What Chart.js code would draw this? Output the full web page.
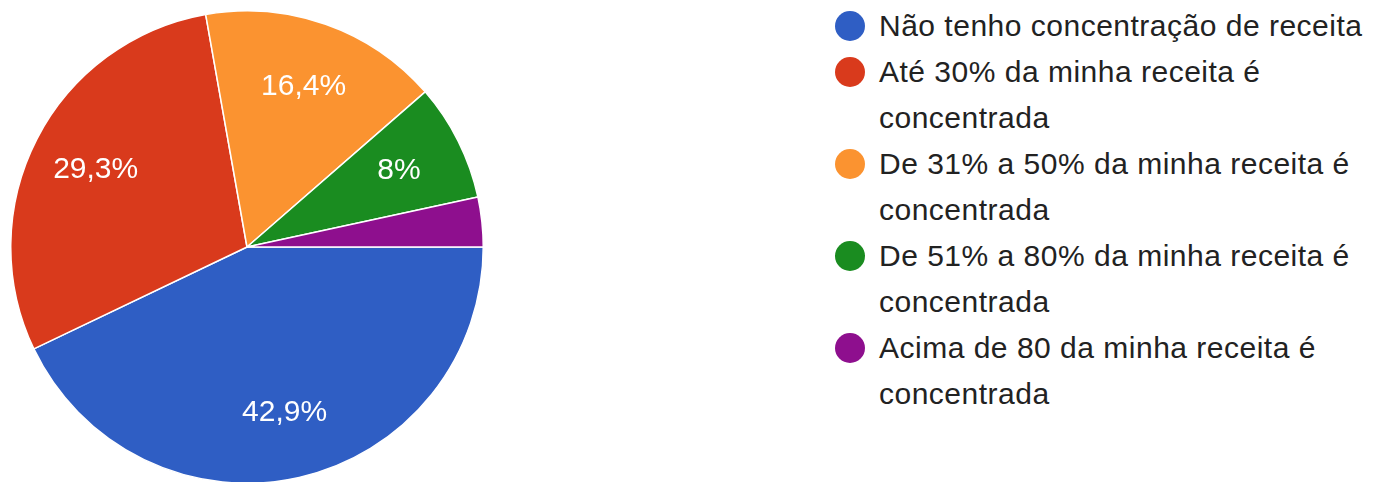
<!DOCTYPE html>
<html>
<head>
<meta charset="utf-8">
<script src="https://cdn.jsdelivr.net/npm/chart.js@4"></script>
<style>
  body { margin: 0; background: #fff; width: 1373px; height: 482px; overflow: hidden; position: relative; font-family: "Liberation Sans", Arial, sans-serif; }
  #chartBox { position: absolute; left: 10px; top: 10px; width: 474px; height: 474px; }
  #legend { position: absolute; left: 835px; top: 3px; list-style: none; margin: 0; padding: 0; }
  #legend li { position: relative; padding-left: 44px; width: 494px; font-size: 30px; letter-spacing: 0.5px; line-height: 46px; color: #222; }
  #legend li span.dot { position: absolute; left: 0; top: 8px; width: 30px; height: 30px; border-radius: 50%; }
</style>
</head>
<body>
<div id="chartBox"><canvas id="pie"></canvas></div>
<ul id="legend"></ul>
<script>
const categories = [
  "Não tenho concentração de receita",
  "Até 30% da minha receita é concentrada",
  "De 31% a 50% da minha receita é concentrada",
  "De 51% a 80% da minha receita é concentrada",
  "Acima de 80 da minha receita é concentrada"
];
const percents = [42.9, 29.3, 16.4, 8, 3.4];
const valueLabels = ["42,9%", "29,3%", "16,4%", "8%", ""];
const colors = ["#2f5ec4", "#d93a1c", "#fb9330", "#1a8c20", "#8e0f8e"];

// Legend (html, so it can wrap)
const legend = document.getElementById('legend');
legend.innerHTML = categories.map((c, i) =>
  `<li><span class="dot" style="background:${colors[i]}"></span>${c}</li>`
).join('');

// percent labels inside slices
const sliceLabels = {
  id: 'sliceLabels',
  afterDatasetsDraw(chart) {
    const ctx = chart.ctx;
    const meta = chart.getDatasetMeta(0);
    ctx.save();
    ctx.fillStyle = '#fff';
    ctx.font = '30px "Liberation Sans", Arial, sans-serif';
    ctx.textAlign = 'center';
    ctx.textBaseline = 'middle';
    meta.data.forEach((arc, i) => {
      if (!valueLabels[i]) return;
      const mid = (arc.startAngle + arc.endAngle) / 2;
      const r = arc.outerRadius * 0.72;
      ctx.fillText(valueLabels[i], arc.x + Math.cos(mid) * r, arc.y + Math.sin(mid) * r);
    });
    ctx.restore();
  }
};

new Chart(document.getElementById('pie').getContext('2d'), {
  type: 'pie',
  data: {
    labels: categories,
    datasets: [{
      data: percents,
      backgroundColor: colors,
      borderColor: '#fff',
      borderWidth: 1.5
    }]
  },
  options: {
    responsive: true,
    maintainAspectRatio: false,
    animation: false,
    rotation: 90,
    layout: { padding: 0 },
    plugins: {
      legend: { display: false },
      tooltip: { enabled: false }
    }
  },
  plugins: [sliceLabels]
});
</script>
</body>
</html>
